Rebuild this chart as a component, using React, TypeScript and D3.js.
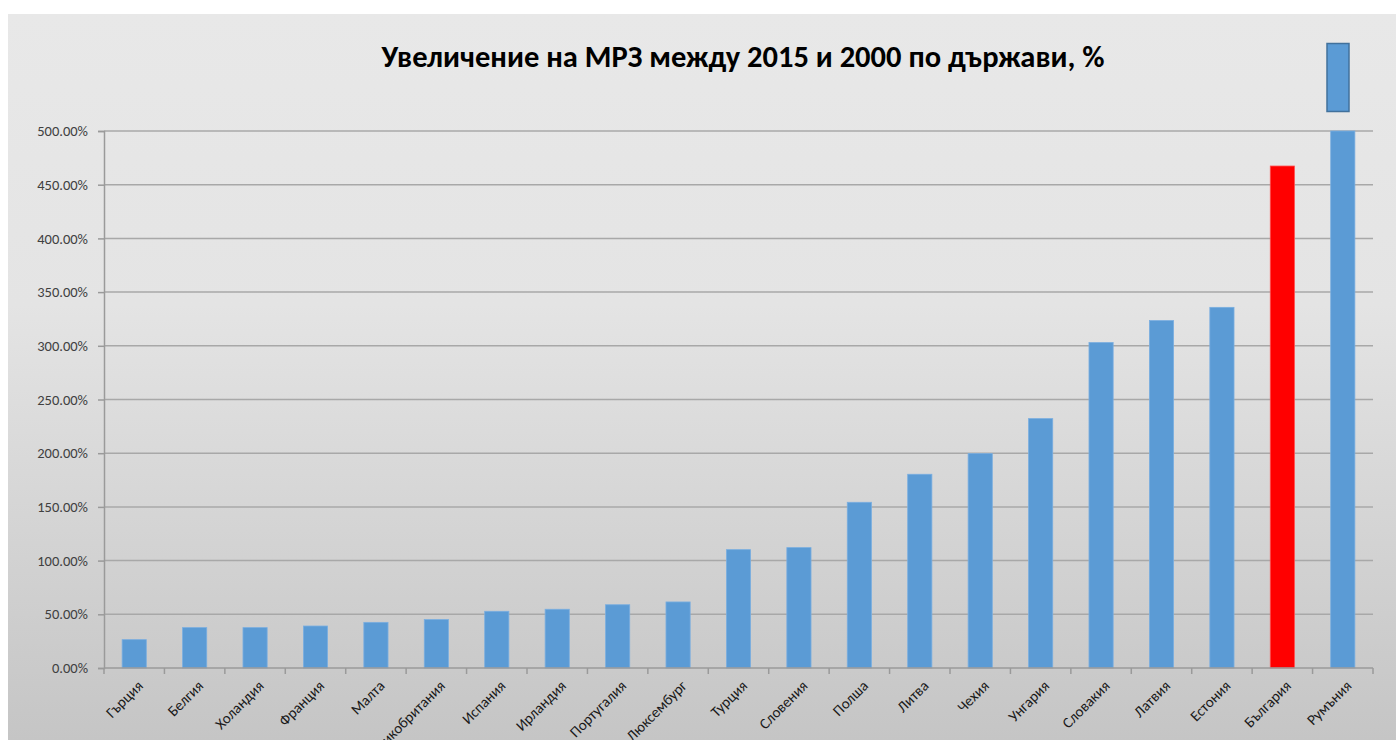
import React, { useEffect, useRef } from 'react'
import * as d3 from 'd3'

const countries: string[] = [
  'Гърция', 'Белгия', 'Холандия', 'Франция', 'Малта', 'Великобритания',
  'Испания', 'Ирландия', 'Португалия', 'Люксембург', 'Турция', 'Словения',
  'Полша', 'Литва', 'Чехия', 'Унгария', 'Словакия', 'Латвия', 'Естония',
  'България', 'Румъния'
]

// increase in % (Romania runs past the top of the axis)
const increase: number[] = [
  26.4, 37.6, 37.6, 39.1, 42.5, 45.1, 52.8, 54.7, 58.9, 61.5, 110.2, 112.1,
  154.3, 180.4, 199.6, 232.2, 303, 323.5, 335.8, 467.4, 560
]

const yTicks: number[] = [0, 50, 100, 150, 200, 250, 300, 350, 400, 450, 500]

const highlight = 'България'
const titleText = 'Увеличение на МРЗ между 2015 и 2000 по държави, %'

const App: React.FC = () => {
  const svgRef = useRef<SVGSVGElement>(null)
  const width = 1396
  const height = 740

  useEffect(() => {
    if (!svgRef.current) return
    const svg = d3.select(svgRef.current)
    svg.selectAll('*').remove()

    const margin = { top: 131, right: 23, bottom: 72, left: 104 }
    const font = 'Carlito, "Liberation Sans Narrow", "Open Sans", sans-serif'

    // background gradient
    const defs = svg.append('defs')
    const grad = defs
      .append('linearGradient')
      .attr('id', 'bg')
      .attr('x1', 0).attr('y1', 0).attr('x2', 0).attr('y2', 1)
    grad.append('stop').attr('offset', '0%').attr('stop-color', '#e8e8e8')
    grad.append('stop').attr('offset', '40%').attr('stop-color', '#e4e4e4')
    grad.append('stop').attr('offset', '100%').attr('stop-color', '#c5c5c5')

    svg.append('rect').attr('width', width).attr('height', height).attr('fill', '#ffffff')
    svg
      .append('rect')
      .attr('x', 8)
      .attr('y', 14)
      .attr('width', width - 8)
      .attr('height', height - 14)
      .attr('fill', 'url(#bg)')

    const x = d3
      .scaleBand()
      .domain(countries)
      .range([margin.left, width - margin.right])
      .paddingInner(0.6)
      .paddingOuter(0.3)

    const y = d3
      .scaleLinear()
      .domain([0, 500])
      .range([height - margin.bottom, margin.top])
      .clamp(true)

    // gridlines
    svg
      .append('g')
      .selectAll('line')
      .data(yTicks.slice(1))
      .enter()
      .append('line')
      .attr('x1', margin.left)
      .attr('x2', width - margin.right)
      .attr('y1', (d) => y(d))
      .attr('y2', (d) => y(d))
      .attr('stroke', '#a8a8a8')
      .attr('stroke-width', 1.5)

    // bars
    svg
      .selectAll('.bar')
      .data(countries)
      .enter()
      .append('rect')
      .attr('class', 'bar')
      .attr('x', (d) => x(d) || 0)
      .attr('y', (d, i) => y(increase[i]))
      .attr('width', x.bandwidth())
      .attr('height', (d, i) => y(0) - y(increase[i]))
      .attr('fill', (d) => (d === highlight ? '#ff0000' : '#5b9bd5'))
      .attr('stroke', (d) => (d === highlight ? '#ff5050' : '#7aaee0'))
      .attr('stroke-width', 0.8)

    // y axis
    const yAxis = d3
      .axisLeft(y)
      .tickValues(yTicks)
      .tickSize(6)
      .tickPadding(10)
      .tickFormat((d) => `${(+d).toFixed(2)}%`)
    const yg = svg
      .append('g')
      .attr('transform', `translate(${margin.left},0)`)
      .call(yAxis)
    yg.select('.domain').attr('stroke', '#9a9a9a').attr('stroke-width', 1.5)
    yg.selectAll('.tick line').attr('stroke', '#9a9a9a').attr('stroke-width', 1.5)
    yg.selectAll('.tick text')
      .attr('fill', '#404040')
      .style('font-family', font)
      .style('font-size', '14.5px')

    // x axis: ticks between categories
    const xg = svg.append('g').attr('transform', `translate(0,${height - margin.bottom})`)
    xg.append('line')
      .attr('x1', margin.left)
      .attr('x2', width - margin.right)
      .attr('stroke', '#9a9a9a')
      .attr('stroke-width', 1.5)
    const step = x.step()
    xg.selectAll('.xt')
      .data(d3.range(countries.length + 1))
      .enter()
      .append('line')
      .attr('class', 'xt')
      .attr('x1', (i) => margin.left + i * step)
      .attr('x2', (i) => margin.left + i * step)
      .attr('y1', 0)
      .attr('y2', 6)
      .attr('stroke', '#9a9a9a')
      .attr('stroke-width', 1.5)

    xg.selectAll('.xl')
      .data(countries)
      .enter()
      .append('text')
      .attr('class', 'xl')
      .attr('transform', (d) => `translate(${(x(d) || 0) + x.bandwidth() / 2 + 6},${15}) rotate(-45)`)
      .attr('text-anchor', 'end')
      .attr('dy', '0.35em')
      .attr('fill', '#1a1a1a')
      .style('font-family', font)
      .style('font-size', '15px')
      .text((d) => d)

    // title
    svg
      .append('text')
      .attr('x', 743)
      .attr('y', 67)
      .attr('text-anchor', 'middle')
      .attr('fill', '#000000')
      .style('font-family', font)
      .style('font-weight', 'bold')
      .style('font-size', '30.5px')
      .text(titleText)

    // legend swatch (no label)
    svg
      .append('rect')
      .attr('x', 1327)
      .attr('y', 43.5)
      .attr('width', 22)
      .attr('height', 68)
      .attr('fill', '#5b9bd5')
      .attr('stroke', '#41719c')
      .attr('stroke-width', 1.5)
  }, [])

  return (
    <svg
      ref={svgRef}
      width={width}
      height={height}
      style={{ position: 'absolute', left: 0, top: 0 }}
    ></svg>
  )
}

export default App
